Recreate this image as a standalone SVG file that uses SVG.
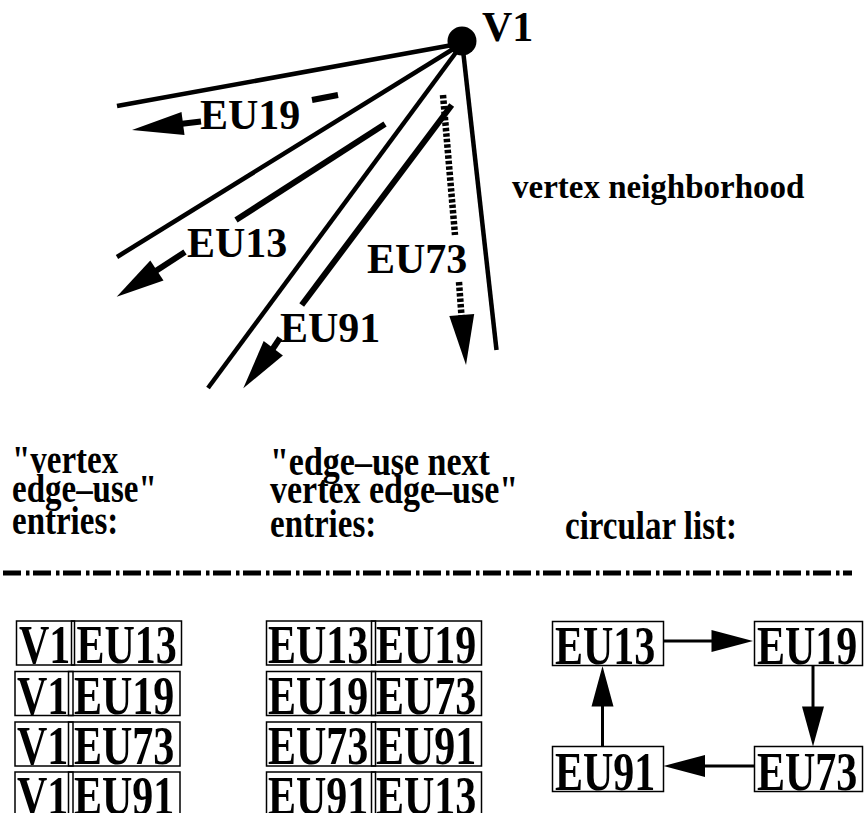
<svg xmlns="http://www.w3.org/2000/svg" width="864" height="813" viewBox="0 0 864 813">
<style>
  .t { font-family: "Liberation Serif", "Times New Roman", serif; font-weight: bold; fill: #000; }
  .lbl { font-size: 42px; }
  .hd { font-size: 33px; }
  .main { stroke: #000; stroke-width: 4.5; fill: none; stroke-linecap: butt; }
  .eu { stroke: #000; stroke-width: 6; fill: none; }
  .eud { stroke: #000; stroke-width: 6.5; fill: none; stroke-dasharray: 3.5 2; }
  .box { fill: none; stroke: #000; stroke-width: 1.5; }
  .arr { stroke: #000; stroke-width: 3; fill: none; }
  .head { fill: #000; stroke: none; }
</style>
<rect x="0" y="0" width="864" height="813" fill="#fff"/>

<g id="neighborhood">
  <g id="edges">
    <line class="main" x1="458" y1="44" x2="117" y2="106"/>
    <line class="main" x1="458" y1="46" x2="117" y2="257"/>
    <line class="main" x1="460" y1="47" x2="208" y2="388"/>
    <line class="main" x1="463" y1="50" x2="496.5" y2="350"/>
  </g>
  <g id="V1">
    <circle cx="462" cy="41" r="14.5" fill="#000"/>
    <text class="t lbl" x="482" y="41">V1</text>
  </g>
  <g id="EU19">
    <line class="eu" x1="312" y1="100" x2="338" y2="95"/>
    <line class="eu" x1="201" y1="121.5" x2="180" y2="124"/>
    <polygon class="head" points="132,130 184.5,134.9 181.5,112.1"/>
    <text class="t lbl" x="200" y="129">EU19</text>
  </g>
  <g id="EU13">
    <line class="eu" x1="385" y1="124" x2="236" y2="220"/>
    <line class="eu" x1="185" y1="252" x2="155" y2="271.5"/>
    <polygon class="head" points="116.7,296.7 163.5,280.4 150.3,260.4"/>
    <text class="t lbl" x="187" y="257">EU13</text>
  </g>
  <g id="EU91">
    <line class="eu" x1="451.7" y1="105" x2="301.7" y2="305"/>
    <line class="eu" x1="280" y1="338" x2="272" y2="350"/>
    <polygon class="head" points="243.3,388.3 282.9,355.5 263.7,341.1"/>
    <text class="t lbl" x="280" y="342">EU91</text>
  </g>
  <g id="EU73">
    <line class="eud" x1="443" y1="95" x2="455" y2="235"/>
    <line class="eud" x1="459" y1="282" x2="461.5" y2="316"/>
    <polygon class="head" points="466,365 449.3,316 474.2,313.9"/>
    <text class="t lbl" x="367" y="273">EU73</text>
  </g>
  <text id="caption" class="t hd" x="512" y="198">vertex neighborhood</text>
</g>

<g id="headers">
  <g id="h-vertex">
    <text class="t hd" transform="translate(12,473) scale(1,1.2)">"vertex</text>
    <text class="t hd" transform="translate(12,502) scale(1,1.2)">edge–use"</text>
    <text class="t hd" transform="translate(12,534) scale(1,1.2)">entries:</text>
  </g>
  <g id="h-next">
    <text class="t hd" transform="translate(270,475) scale(1.03,1.2)">"edge–use next</text>
    <text class="t hd" transform="translate(270,503) scale(1.03,1.2)">vertex edge–use"</text>
    <text class="t hd" transform="translate(270,537) scale(1,1.2)">entries:</text>
  </g>
  <text id="h-circ" class="t hd" transform="translate(565,539) scale(1,1.2)">circular list:</text>
</g>

<line id="separator" x1="3" y1="573" x2="852" y2="573" stroke="#000" stroke-width="5" stroke-dasharray="18 5 3.5 3.5"/>

<g id="vertex-entries">
  <g id="ve1">
    <rect class="box" x="16.5" y="621" width="58" height="44"/>
    <rect class="box" x="71.5" y="621" width="110" height="44"/>
    <text class="t lbl" transform="translate(19,663) scale(1,1.33)">V1</text>
    <text class="t lbl" transform="translate(76.5,663) scale(1,1.33)">EU13</text>
  </g>
  <g id="ve2">
    <rect class="box" x="15" y="671.5" width="58" height="44"/>
    <rect class="box" x="68.5" y="671.5" width="111.5" height="44"/>
    <text class="t lbl" transform="translate(17,714) scale(1,1.33)">V1</text>
    <text class="t lbl" transform="translate(74,714) scale(1,1.33)">EU19</text>
  </g>
  <g id="ve3">
    <rect class="box" x="15" y="722" width="58" height="44"/>
    <rect class="box" x="68.5" y="722" width="111.5" height="44"/>
    <text class="t lbl" transform="translate(17,764) scale(1,1.33)">V1</text>
    <text class="t lbl" transform="translate(74,764) scale(1,1.33)">EU73</text>
  </g>
  <g id="ve4">
    <rect class="box" x="15" y="772" width="58" height="44"/>
    <rect class="box" x="68.5" y="772" width="111.5" height="44"/>
    <text class="t lbl" transform="translate(17,814) scale(1,1.33)">V1</text>
    <text class="t lbl" transform="translate(74,814) scale(1,1.33)">EU91</text>
  </g>
</g>

<g id="next-entries">
  <g id="ne1">
    <rect class="box" x="266.5" y="621" width="109" height="44"/>
    <rect class="box" x="371.5" y="621" width="110" height="44"/>
    <text class="t lbl" transform="translate(268,663) scale(1,1.33)">EU13</text>
    <text class="t lbl" transform="translate(376,663) scale(1,1.33)">EU19</text>
  </g>
  <g id="ne2">
    <rect class="box" x="266.5" y="671.5" width="109" height="44"/>
    <rect class="box" x="371.5" y="671.5" width="110" height="44"/>
    <text class="t lbl" transform="translate(268,714) scale(1,1.33)">EU19</text>
    <text class="t lbl" transform="translate(376,714) scale(1,1.33)">EU73</text>
  </g>
  <g id="ne3">
    <rect class="box" x="266.5" y="722" width="109" height="44"/>
    <rect class="box" x="371.5" y="722" width="110" height="44"/>
    <text class="t lbl" transform="translate(268,764) scale(1,1.33)">EU73</text>
    <text class="t lbl" transform="translate(376,764) scale(1,1.33)">EU91</text>
  </g>
  <g id="ne4">
    <rect class="box" x="266.5" y="772" width="109" height="44"/>
    <rect class="box" x="371.5" y="772" width="110" height="44"/>
    <text class="t lbl" transform="translate(268,814) scale(1,1.33)">EU91</text>
    <text class="t lbl" transform="translate(376,814) scale(1,1.33)">EU13</text>
  </g>
</g>

<g id="circular-connectors">
  <line class="arr" x1="663" y1="641" x2="713" y2="641"/>
  <polygon class="head" points="753,641 711.5,630 711.5,652"/>
  <line class="arr" x1="813" y1="666" x2="813" y2="708"/>
  <polygon class="head" points="813,746.5 802,706.5 824,706.5"/>
  <line class="arr" x1="754" y1="766" x2="704" y2="766"/>
  <polygon class="head" points="663.5,766 705,755 705,777"/>
  <line class="arr" x1="602.5" y1="746.5" x2="602.5" y2="705"/>
  <polygon class="head" points="602.5,666 591.5,706.5 613.5,706.5"/>
</g>

<g id="c-EU13">
  <rect class="box" x="552.5" y="621.5" width="111" height="44"/>
  <text class="t lbl" transform="translate(555,663.5) scale(1,1.33)">EU13</text>
</g>
<g id="c-EU19">
  <rect class="box" x="754.5" y="621.5" width="108" height="44"/>
  <text class="t lbl" transform="translate(757,663.5) scale(1,1.33)">EU19</text>
</g>
<g id="c-EU73">
  <rect class="box" x="754.5" y="746.5" width="108" height="45"/>
  <text class="t lbl" transform="translate(757,789.5) scale(1,1.33)">EU73</text>
</g>
<g id="c-EU91">
  <rect class="box" x="552.5" y="746.5" width="111" height="45"/>
  <text class="t lbl" transform="translate(555,789.5) scale(1,1.33)">EU91</text>
</g>
</svg>
